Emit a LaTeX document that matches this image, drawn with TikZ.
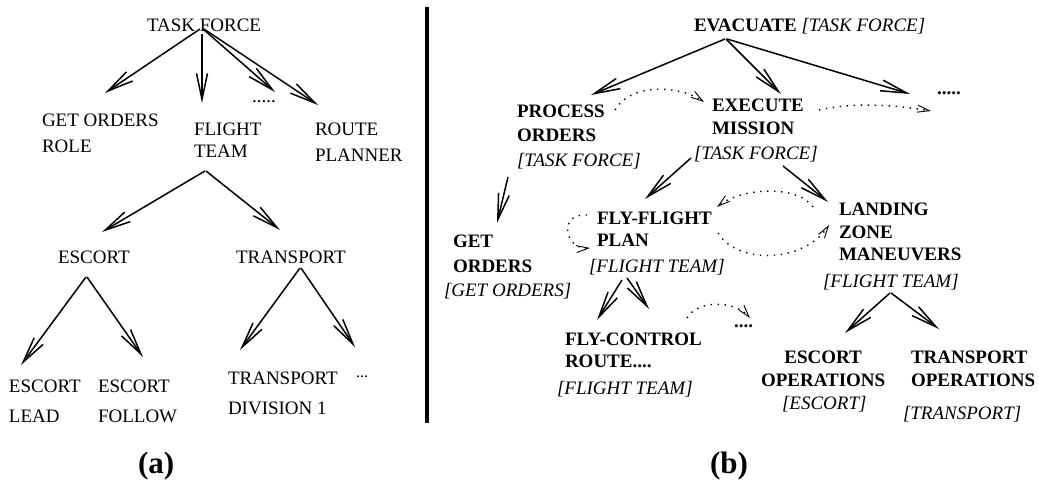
\documentclass[tikz,border=0pt]{standalone}
\usepackage{fontspec}
\setmainfont{Liberation Serif}
\usetikzlibrary{arrows.meta}
\newcommand\lnsL[2]{\vtop{\baselineskip=#1\relax\halign{##\hfil\cr#2\crcr}}}
\newcommand\lnsC[2]{\vtop{\baselineskip=#1\relax\halign{\hfil##\hfil\cr#2\crcr}}}
\begin{document}
\begin{tikzpicture}[x=0.5pt,y=-0.5pt,
  lab/.style={inner sep=0pt, outer sep=0pt, anchor=base west, font=\fontsize{9.5pt}{11pt}\selectfont},
  bl/.style={lab, font=\fontsize{9.5pt}{11pt}\selectfont\bfseries},
  itl/.style={lab, font=\fontsize{9.5pt}{11pt}\selectfont\itshape},
  figcap/.style={lab, font=\fontsize{15.5pt}{17pt}\selectfont\bfseries},
  arr/.style={line width=0.75pt, -{Straight Barb[length=13pt,width=5.5pt,line width=0.75pt]}},
  dotarr/.style={line width=0.7pt, dash pattern=on 0.7pt off 2.8pt, -{Straight Barb[length=6pt,width=3.5pt,line width=0.45pt]}}
]
\useasboundingbox (0,0) rectangle (1039,485);

% ---------------- (a) ----------------
\node[lab] (tf) at (147,32) {TASK FORCE};
\node[lab] (go) at (42,127) {\lnsL{13pt}{GET ORDERS\cr ROLE}};
\node[lab] (ft) at (194,136) {\lnsL{11pt}{FLIGHT\cr TEAM}};
\node[lab] (rp) at (315,136) {\lnsL{13pt}{ROUTE\cr PLANNER}};
\node[lab] (d1) at (252,103) {.....};
\node[lab] (esc) at (58,264) {ESCORT};
\node[lab] (tr) at (236,264) {TRANSPORT};
\node[lab] (el) at (9,393) {\lnsL{15pt}{ESCORT\cr LEAD}};
\node[lab] (ef) at (98,393) {\lnsL{15pt}{ESCORT\cr FOLLOW}};
\node[lab] (td) at (228,385) {\lnsL{15pt}{TRANSPORT\cr DIVISION 1}};
\node[lab, font=\fontsize{8pt}{9pt}\selectfont] (d2) at (356,378) {...};
\node[figcap] (la) at (138,474) {(a)};

\draw[arr] ([shift={(53,-3)}]tf.base west) -- ([shift={(63,-34)}]go.base west);
\draw[arr] ([shift={(55,2)}]tf.base west) -- ([shift={(8,-33)}]ft.base west);
\draw[arr] ([shift={(56,-3)}]tf.base west) -- ([shift={(23,-11)}]d1.base west);
\draw[arr] ([shift={(57,-3)}]tf.base west) -- ([shift={(3,-31)}]rp.base west);
\draw[arr] ([shift={(11,35)}]ft.base west) -- ([shift={(44,-32)}]esc.base west);
\draw[arr] ([shift={(12,35)}]ft.base west) -- ([shift={(44,-34)}]tr.base west);
\draw[arr] ([shift={(28,13)}]esc.base west) -- ([shift={(12,-28)}]el.base west);
\draw[arr] ([shift={(29,13)}]esc.base west) -- ([shift={(45,-36)}]ef.base west);
\draw[arr] ([shift={(64,4)}]tr.base west) -- ([shift={(12,-35)}]td.base west);
\draw[arr] ([shift={(65,4)}]tr.base west) -- ([shift={(-1,-31)}]d2.base west);

% separator
\coordinate (bartop) at (427,7);
\coordinate (barbot) at (427,423);
\draw[line width=1.8pt] (bartop) -- (barbot);

% ---------------- (b) ----------------
\node[lab] (ev) at (694,32) {\textbf{EVACUATE} \textit{[TASK FORCE]}};
\node[bl] (po) at (517,118) {\lnsL{12pt}{PROCESS\cr ORDERS}};
\node[itl] (pot) at (517,167) {[TASK FORCE]};
\node[bl] (em) at (712,112) {\lnsL{11.5pt}{EXECUTE\cr MISSION}};
\node[itl] (emt) at (694,160) {[TASK FORCE]};
\node[bl] (d3) at (937,95) {.....};
\node[bl] (fly) at (597,225) {\lnsL{11pt}{FLY-FLIGHT\cr PLAN}};
\node[itl] (flyt) at (589,273) {[FLIGHT TEAM]};
\node[bl] (lz) at (839,216) {\lnsL{11.25pt}{LANDING\cr ZONE\cr MANEUVERS}};
\node[itl] (lzt) at (823,288) {[FLIGHT TEAM]};
\node[bl] (get) at (453,248) {\lnsL{12.5pt}{GET\cr ORDERS}};
\node[itl] (gett) at (444,297) {[GET ORDERS]};
\node[bl] (fc) at (565,346) {\lnsL{11pt}{FLY-CONTROL\cr ROUTE....}};
\node[itl] (fct) at (557,395) {[FLIGHT TEAM]};
\node[bl] (d4) at (734,328) {....};
\node[bl] (eo) at (761,364) {\lnsC{11.5pt}{ESCORT\cr OPERATIONS}};
\node[itl] (eot) at (782,410) {[ESCORT]};
\node[bl] (to) at (911,364) {\lnsL{11.5pt}{TRANSPORT\cr OPERATIONS}};
\node[itl] (tot) at (903,420) {[TRANSPORT]};
\node[figcap] (lb) at (710,474) {(b)};

\draw[arr] ([shift={(31,7)}]ev.base west) -- ([shift={(74,-23)}]po.base west);
\draw[arr] ([shift={(32,7)}]ev.base west) -- ([shift={(69,-18)}]em.base west);
\draw[arr] ([shift={(33,7)}]ev.base west) -- ([shift={(-27,-1)}]d3.base west);
\draw[arr] ([shift={(-9,10)}]pot.base west) -- ([shift={(44,-25)}]get.base west);
\draw[arr] ([shift={(-3,-2)}]emt.base west) -- ([shift={(48,-26)}]fly.base west);
\draw[arr] ([shift={(89,6)}]emt.base west) -- ([shift={(-11,-14)}]lz.base west);
\draw[arr] ([shift={(33,7)}]flyt.base west) -- ([shift={(32,-26)}]fc.base west);
\draw[arr] ([shift={(38,5)}]flyt.base west) -- ([shift={(84,-37)}]fc.base west);
\draw[arr] ([shift={(67,5)}]lzt.base west) -- ([shift={(84,-31)}]eo.base west);
\draw[arr] ([shift={(68,5)}]lzt.base west) -- ([shift={(28,-35)}]to.base west);

\draw[dotarr] ([shift={(98,-8)}]po.base west) .. controls +(15,-27) and +(-25,-17) .. ([shift={(-8,-10)}]em.base west);
\draw[dotarr] ([shift={(107,-2)}]em.base west) .. controls +(35,-8) and +(-35,-6) .. ([shift={(-6,16)}]d3.base west);
\draw[dotarr] ([shift={(-26,-9)}]lz.base west) .. controls +(-15,-22) and +(25,-20) .. ([shift={(120,-18)}]fly.base west);
\draw[dotarr] ([shift={(121,8)}]fly.base west) .. controls +(20,32) and +(-25,38) .. ([shift={(-10,9)}]lz.base west);
\draw[dotarr] ([shift={(-10,-10)}]fly.base west) .. controls +(-30,-2) and +(-25,2) .. ([shift={(-7,23)}]fly.base west);
\draw[dotarr] ([shift={(122,-28)}]fc.base west) .. controls +(10,-18) and +(-15,-18) .. ([shift={(16,-10)}]d4.base west);
\end{tikzpicture}
\end{document}
